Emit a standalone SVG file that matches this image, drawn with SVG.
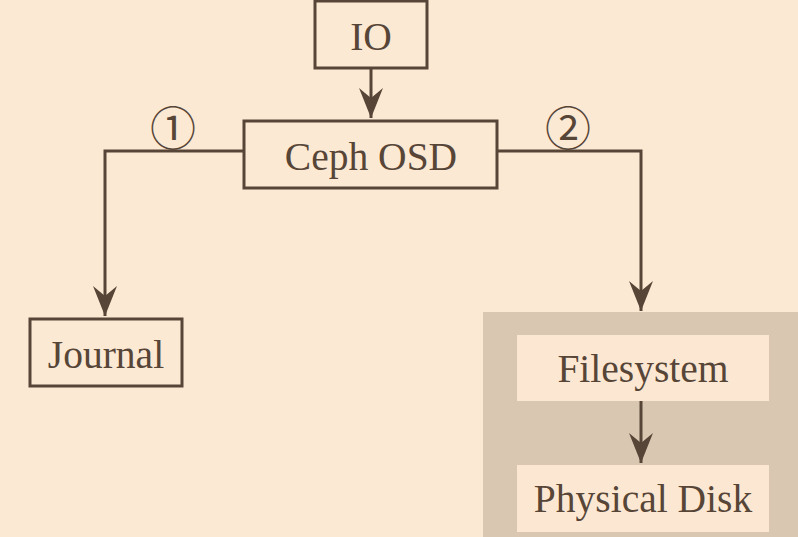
<svg xmlns="http://www.w3.org/2000/svg" width="798" height="537" viewBox="0 0 798 537">
<style>
.box{fill:none;stroke:#574537;stroke-width:3}
.inner{fill:#fce8d2;stroke:none}
.lbl{font-family:"Liberation Serif","Times New Roman",serif;font-size:39.5px;fill:#574537;text-anchor:middle}
.num{font-family:"DejaVu Serif","Noto Sans CJK SC",serif;font-size:46px;fill:#574537;text-anchor:middle}
.conn{fill:none;stroke:#574537;stroke-width:3}
</style>
<defs>
<marker id="ah" markerUnits="userSpaceOnUse" viewBox="-32 -14 34 28" refX="0" refY="0" markerWidth="34" markerHeight="28" orient="auto">
<path d="M0,0 L-30,-12 L-20,0 L-30,12 Z" fill="#574537"/>
</marker>
</defs>
<rect x="0" y="0" width="798" height="537" fill="#fce9d3"/>
<g id="storage">
<rect x="483" y="312" width="315" height="225" fill="#dac7b2"/>
</g>
<g id="io">
<rect class="box" x="315" y="1" width="112" height="67"/>
<text class="lbl" x="371" y="50">IO</text>
</g>
<g id="ceph">
<rect class="box" x="244" y="121" width="253" height="67"/>
<text class="lbl" x="371" y="170">Ceph OSD</text>
</g>
<g id="journal">
<rect class="box" x="30" y="319" width="152" height="67"/>
<text class="lbl" x="106" y="368">Journal</text>
</g>
<g id="filesystem">
<rect class="inner" x="517" y="335" width="252" height="66"/>
<text class="lbl" x="643" y="382">Filesystem</text>
</g>
<g id="disk">
<rect class="inner" x="517" y="465" width="252" height="67"/>
<text class="lbl" x="643" y="512">Physical Disk</text>
</g>
<g id="connectors">
<path class="conn" d="M371,68 V118" marker-end="url(#ah)"/>
<path class="conn" d="M244,151 H105 V316" marker-end="url(#ah)"/>
<path class="conn" d="M497,151 H641 V311" marker-end="url(#ah)"/>
<path class="conn" d="M641,401 V463" marker-end="url(#ah)"/>
<text class="num" x="173" y="145">①</text>
<text class="num" x="568" y="145">②</text>
</g>
</svg>
